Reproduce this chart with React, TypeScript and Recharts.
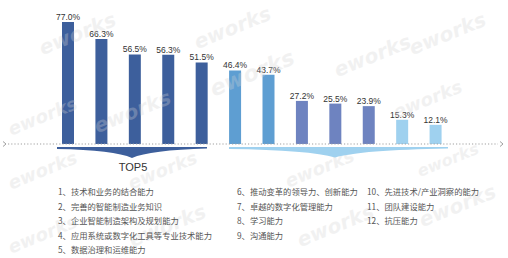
import { BarChart, Bar, XAxis, YAxis, Cell, LabelList } from "recharts";

// skill categories, in rank order
const skills = [
  "技术和业务的结合能力",
  "完善的智能制造业务知识",
  "企业智能制造架构及规划能力",
  "应用系统或数字化工具等专业技术能力",
  "数据治理和运维能力",
  "推动变革的领导力、创新能力",
  "卓越的数字化管理能力",
  "学习能力",
  "沟通能力",
  "先进技术/产业洞察的能力",
  "团队建设能力",
  "抗压能力",
];
const shares = [77.0, 66.3, 56.5, 56.3, 51.5, 46.4, 43.7, 27.2, 25.5, 23.9, 15.3, 12.1];
const groups = [0, 0, 0, 0, 0, 1, 1, 2, 2, 2, 3, 3];
const topLabel = "TOP5";

const COLORS = ["#3d5f9c", "#5e9ed2", "#6e83c0", "#9fd1ef"];

const data = skills.map((name, i) => ({ name, value: shares[i], group: groups[i] }));

// legend columns: item indices
const legendCols = [
  { x: 58, items: [0, 1, 2, 3, 4] },
  { x: 237, items: [5, 6, 7, 8] },
  { x: 367, items: [9, 10, 11] },
];

const watermarks = [
  { x: 80, y: 40, s: 20 },
  { x: 235, y: 34, s: 20 },
  { x: 450, y: 40, s: 20 },
  { x: 255, y: 80, s: 22 },
  { x: 375, y: 62, s: 20 },
  { x: 135, y: 118, s: 20 },
  { x: 430, y: 105, s: 18 },
  { x: 45, y: 122, s: 18 },
  { x: 45, y: 176, s: 18 },
  { x: 165, y: 176, s: 18 },
  { x: 322, y: 174, s: 18 },
  { x: 450, y: 165, s: 16 },
  { x: 45, y: 240, s: 18 },
  { x: 170, y: 232, s: 20 },
  { x: 338, y: 232, s: 20 },
  { x: 460, y: 212, s: 20 },
];

function Overlay() {
  const dotY = 144;
  return (
    <svg
      width={508}
      height={258}
      style={{ position: "absolute", left: 0, top: 0, pointerEvents: "none" }}
    >
      {/* eworks watermarks */}
      {watermarks.map((w, i) => (
        <text
          key={i}
          x={w.x}
          y={w.y}
          textAnchor="middle"
          transform={`rotate(-22 ${w.x} ${w.y})`}
          fontFamily="DejaVu Sans, sans-serif"
          fontStyle="italic"
          fontWeight="bold"
          fontSize={w.s}
          fill="#d4d4d4"
          opacity={0.3}
        >
          eworks
        </text>
      ))}

      {/* dotted baseline with arrows */}
      <line x1={8} y1={dotY} x2={498} y2={dotY} stroke="#a0a0a0" strokeWidth={1.2} strokeDasharray="1.2 2" />
      <path d="M3,141.5 L6,144 L3,146.5" fill="none" stroke="#a0a0a0" strokeWidth={1} />
      <path d="M500,141.5 L503,144 L500,146.5" fill="none" stroke="#a0a0a0" strokeWidth={1} />

      {/* bracket wedges */}
      <path d="M57,147 L207,147 L207,148.5 Q150,150 132,158 Q114,150 57,149 Z" fill="#3d5f9c" />
      <path d="M229,147 L448,147 L448,148.5 Q360,150 335,157.5 Q310,150 229,149 Z" fill="#9fd1ef" />

      <text
        x={133}
        y={171}
        textAnchor="middle"
        fontFamily="Liberation Sans, Arial, sans-serif"
        fontSize={11}
        fill="#333"
      >
        {topLabel}
      </text>

      {legendCols.map((col) =>
        col.items.map((idx, r) => (
          <text
            key={idx}
            x={col.x}
            y={195 + r * 14.6}
            fontFamily="Noto Sans CJK SC, sans-serif"
            fontSize={8.3}
            fill="#555"
          >
            {`${idx + 1}、${skills[idx]}`}
          </text>
        ))
      )}
    </svg>
  );
}

export default function App() {
  return (
    <div style={{ position: "absolute", left: 0, top: 0, width: 508, height: 258, background: "#fff" }}>
      <BarChart
        width={508}
        height={258}
        data={data}
        margin={{ top: 22, right: 56, bottom: 114, left: 51 }}
        barCategoryGap={0}
      >
        <XAxis dataKey="name" hide />
        <YAxis domain={[0, 77]} hide />
        <Bar dataKey="value" barSize={12} isAnimationActive={false}>
          {data.map((d) => (
            <Cell key={d.name} fill={COLORS[d.group]} />
          ))}
          <LabelList
            dataKey="value"
            position="top"
            offset={2}
            formatter={(v: number) => `${v.toFixed(1)}%`}
            style={{ fontFamily: "Liberation Sans Narrow, Liberation Sans, sans-serif", fontSize: 8.5, fill: "#333" }}
          />
        </Bar>
      </BarChart>
      <Overlay />
    </div>
  );
}
